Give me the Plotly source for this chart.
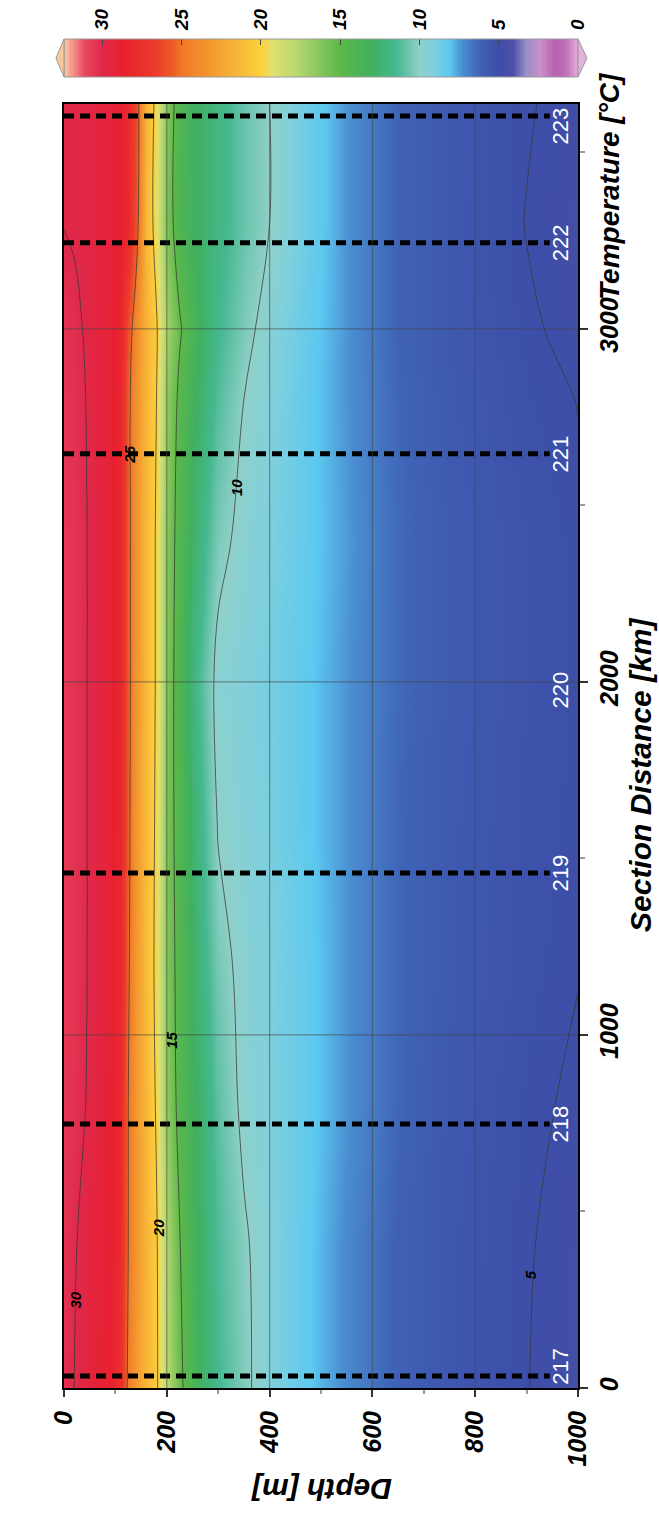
import numpy as np
import plotly.graph_objects as go

# ---------------- data ----------------
depth_m = [0, 20, 40, 60, 90, 110, 125, 140, 160, 180, 200, 225, 260, 300, 350,
           400, 475, 550, 650, 750, 900, 1000]
section_km = [0, 400, 800, 1200, 1600, 2000, 2400, 2800, 3000, 3300, 3640]

t_0000 = [30.3, 30.0, 29.6, 29.2, 28.8, 27.5, 24.6, 23.2, 21.6, 20.3, 17.8, 15.4, 13.2, 11.5, 10.3, 9.3, 8.2, 7.2, 6.1, 5.5, 5.02, 4.70]
t_0400 = [30.4, 30.1, 29.7, 29.3, 28.9, 27.8, 25.0, 23.4, 21.6, 20.2, 17.5, 15.1, 13.0, 11.3, 10.2, 9.3, 8.2, 7.2, 6.1, 5.5, 5.05, 4.75]
t_0800 = [30.6, 30.35, 30.05, 29.6, 29.0, 27.9, 25.0, 23.3, 21.5, 19.8, 16.6, 14.4, 12.8, 11.0, 9.7, 9.2, 8.3, 7.4, 6.3, 5.6, 5.1, 4.92]
t_1200 = [30.6, 30.4, 30.1, 29.7, 29.1, 28.1, 25.3, 23.2, 21.2, 19.6, 16.2, 14.3, 12.3, 10.5, 9.6, 9.1, 8.3, 7.4, 6.3, 5.7, 5.2, 5.02]
t_1600 = [30.6, 30.4, 30.1, 29.7, 29.1, 28.2, 25.5, 23.3, 21.3, 19.7, 16.0, 14.2, 12.0, 9.9, 9.4, 9.0, 8.2, 7.4, 6.3, 5.7, 5.25, 5.08]
t_2000 = [30.6, 30.4, 30.1, 29.7, 29.1, 28.2, 25.6, 23.4, 21.4, 19.8, 16.2, 14.0, 11.5, 9.6, 9.3, 8.9, 8.2, 7.4, 6.4, 5.8, 5.3, 5.1]
t_2400 = [30.6, 30.4, 30.1, 29.7, 29.1, 28.2, 25.6, 23.5, 21.4, 19.8, 16.3, 14.2, 12.2, 10.4, 9.6, 9.1, 8.3, 7.5, 6.4, 5.8, 5.3, 5.08]
t_2800 = [30.5, 30.3, 30.05, 29.6, 29.1, 28.2, 25.5, 23.6, 21.6, 20.0, 16.6, 14.6, 12.8, 11.2, 10.0, 9.3, 8.3, 7.4, 6.3, 5.7, 5.15, 4.99]
t_3000 = [30.4, 30.2, 29.95, 29.5, 29.1, 28.3, 26.0, 24.0, 21.8, 20.2, 17.2, 15.2, 13.2, 11.6, 10.4, 9.5, 8.4, 7.4, 6.2, 5.6, 5.08, 4.85]
t_3300 = [29.97, 29.9, 29.8, 29.6, 29.3, 28.8, 28.2, 26.0, 21.5, 19.2, 16.0, 14.0, 12.8, 11.9, 10.8, 10.0, 8.6, 7.4, 6.2, 5.6, 4.98, 4.75]
t_3640 = [29.97, 29.9, 29.8, 29.6, 29.3, 28.8, 28.1, 26.2, 21.8, 19.4, 16.2, 14.1, 12.8, 11.9, 10.8, 10.0, 8.6, 7.4, 6.2, 5.6, 5.05, 4.80]
temperature = [t_0000, t_0400, t_0800, t_1200, t_1600, t_2000, t_2400, t_2800, t_3000, t_3300, t_3640]

station_ids = ["217", "218", "219", "220", "221", "222", "223"]
station_km = [34, 748, 1459, 1977, 2646, 3244, 3603]
station_has_line = [True, True, True, False, True, True, True]
station_line_depth = 945

contour_label_val = ["30", "20", "15", "10", "25", "5"]
contour_label_depth = [23, 183, 210, 337, 128, 907]
contour_label_km = [250, 453, 986, 2550, 2643, 320]

depth_ticks = [0, 200, 400, 600, 800, 1000]
depth_minor = [100, 300, 500, 700, 900]
dist_ticks = [0, 1000, 2000, 3000]
dist_minor = [500, 1500, 2500, 3500]
cbar_ticks = [30, 25, 20, 15, 10, 5, 0]

T_MAX = 32.4
DIST_MAX = 3637

# colour scale (temperature -> colour)
cs_temp = [0, 0.8, 1.5, 2.4, 3.3, 4.1, 5.0, 6.2, 7.3, 8.1, 9.2, 10.0, 11.5, 13.0, 15.0,
           16.1, 17.8, 19.3, 20.0, 21.4, 23.1, 25.0, 25.6, 26.6, 28.8, 30.0, 31.1, 32.4]
cs_color = ["#e4b0dc", "#c070b8", "#b860b0", "#c890c8", "#9890c8", "#5050a8", "#3d4ea8",
            "#3f62b5", "#4a8cd0", "#5cc8f0", "#80d0dc", "#90d0c8", "#45b890", "#40b060",
            "#5cb848", "#80c45a", "#b8d870", "#e0e070", "#fcd23c", "#f8b838", "#f49a30",
            "#f07828", "#ee5a28", "#ec3c2a", "#e82030", "#e0284a", "#e84860", "#f8c8a0"]
colorscale = [[t / T_MAX, c] for t, c in zip(cs_temp, cs_color)]

FONT = "Liberation Sans"
bi = dict(family=FONT, color="black", weight="bold", style="italic")

# ---------------- figure ----------------
fig = go.Figure()

fig.add_trace(go.Contour(
    x=depth_m, y=section_km, z=temperature,
    colorscale=colorscale, zmin=0, zmax=T_MAX,
    contours=dict(coloring="heatmap", start=5, end=30, size=5, showlabels=False),
    line=dict(color="rgba(55,55,55,0.75)", width=1, smoothing=1.0),
    showscale=False, hoverinfo="skip", xaxis="x", yaxis="y"))

# station dashed lines
for sid, km, has in zip(station_ids, station_km, station_has_line):
    if has:
        fig.add_trace(go.Scatter(
            x=[0, station_line_depth], y=[km, km], mode="lines",
            line=dict(color="black", width=5, dash="10px,6px"),
            showlegend=False, hoverinfo="skip", xaxis="x", yaxis="y"))

# colour bar drawn as heatmap on its own axis
cb_x = np.linspace(0, T_MAX, 400)
fig.add_trace(go.Heatmap(
    x=cb_x, y=[0, 1], z=[cb_x, cb_x], colorscale=colorscale, zmin=0, zmax=T_MAX,
    zsmooth="best", showscale=False, hoverinfo="skip", xaxis="x2", yaxis="y2"))

main_top = (1388 - 104) / 1349
cb_bot = (1388 - 77) / 1349

shapes = []
for d in depth_ticks[1:-1]:
    shapes.append(dict(type="line", xref="x", yref="y domain", x0=d, x1=d, y0=0, y1=1,
                       line=dict(color="rgba(70,70,70,0.55)", width=1.2), layer="above"))
for k in dist_ticks[1:]:
    shapes.append(dict(type="line", xref="x domain", yref="y", x0=0, x1=1, y0=k, y1=k,
                       line=dict(color="rgba(70,70,70,0.55)", width=1.2), layer="above"))
# colour bar outline and end triangles
mid = (cb_bot + 1) / 2
shapes.append(dict(type="rect", xref="paper", yref="paper", x0=0, x1=1, y0=cb_bot, y1=1,
                   line=dict(color="#9a9a9a", width=1)))
shapes.append(dict(type="path", xref="paper", yref="paper",
                   path=f"M 0 {cb_bot} L -0.0156 {mid} L 0 1 Z",
                   fillcolor=cs_color[-1], line=dict(color="#9a9a9a", width=1)))
shapes.append(dict(type="path", xref="paper", yref="paper",
                   path=f"M 1 {cb_bot} L 1.0175 {mid} L 1 1 Z",
                   fillcolor=cs_color[0], line=dict(color="#9a9a9a", width=1)))

annotations = []
half = 62
for sid, km in zip(station_ids, station_km):
    ly = min(max(km, half), DIST_MAX - half)
    annotations.append(dict(x=966, y=ly, xref="x", yref="y", text=sid, showarrow=False,
                            xanchor="center", yanchor="middle",
                            textangle=-90, font=dict(family=FONT, size=22, color="white")))
for v, d, k in zip(contour_label_val, contour_label_depth, contour_label_km):
    annotations.append(dict(x=d, y=k, xref="x", yref="y", text=v, showarrow=False,
                            xanchor="center", yanchor="middle",
                            textangle=-90, font=dict(bi, size=15)))
annotations.append(dict(x=(610 - 64) / 514, y=(1388 - 186) / 1349, xref="paper", yref="paper",
                        text="Temperature [°C]", showarrow=False, textangle=-90,
                        xanchor="center", yanchor="middle", font=dict(bi, size=28)))
annotations.append(dict(x=(641 - 64) / 514, y=(1388 - 775) / 1349, xref="paper", yref="paper",
                        text="Section Distance [km]", showarrow=False, textangle=-90,
                        xanchor="center", yanchor="middle", font=dict(bi, size=30)))
annotations.append(dict(x=(322 - 64) / 514, y=(1388 - 1490) / 1349, xref="paper", yref="paper",
                        text="Depth [m]", showarrow=False, textangle=180,
                        xanchor="center", yanchor="middle", font=dict(bi, size=30)))

fig.update_layout(
    width=659, height=1524,
    margin=dict(l=64, r=81, t=39, b=136),
    paper_bgcolor="white", plot_bgcolor="white",
    showlegend=False,
    xaxis=dict(domain=[0, 1], anchor="y", range=[0, 1000], side="bottom",
               tickvals=depth_ticks, ticktext=[str(v) for v in depth_ticks],
               tickangle=-90, ticks="outside", ticklen=7, tickwidth=1.5, tickcolor="#333",
               tickfont=dict(bi, size=25), ticklabelstandoff=4,
               minor=dict(tickvals=depth_minor, ticks="outside", ticklen=4, tickcolor="#999"),
               showgrid=False, zeroline=False, showline=True, linecolor="black",
               linewidth=2, mirror=True, automargin=False),
    yaxis=dict(domain=[0, main_top], anchor="x", range=[0, DIST_MAX], side="right",
               tickvals=dist_ticks, ticktext=[str(v) for v in dist_ticks],
               tickangle=-90, ticks="outside", ticklen=8, tickwidth=1.5, tickcolor="#333",
               tickfont=dict(bi, size=25), ticklabelstandoff=0,
               minor=dict(tickvals=dist_minor, ticks="outside", ticklen=5, tickcolor="#999"),
               showgrid=False, zeroline=False, showline=True, linecolor="black",
               linewidth=2, mirror=True, automargin=False),
    xaxis2=dict(domain=[0, 1], anchor="y2", range=[T_MAX, 0], side="top",
                tickvals=cbar_ticks, ticktext=[str(v) for v in cbar_ticks],
                tickangle=-90, ticks="inside", ticklen=6, tickcolor="#444",
                tickfont=dict(bi, size=19), ticklabelstandoff=8,
                showgrid=False, zeroline=False, showline=False, automargin=False),
    yaxis2=dict(domain=[cb_bot, 1], anchor="x2", range=[0, 1], visible=False),
    shapes=shapes, annotations=annotations,
)

fig.write_html("out.html")
